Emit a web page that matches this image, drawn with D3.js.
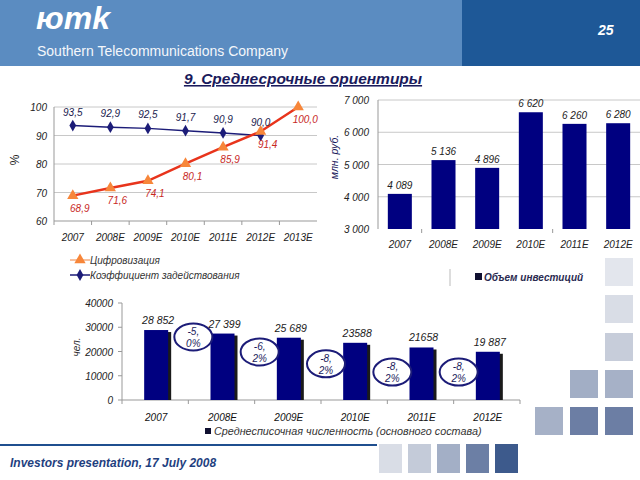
<!DOCTYPE html>
<html><head><meta charset="utf-8">
<script src="https://cdn.jsdelivr.net/npm/d3@7"></script>
<style>body{margin:0;background:#fff}svg{display:block}text{font-family:"Liberation Sans",Arial,sans-serif}</style>
</head><body><svg id="c" width="640" height="480"></svg>
<script>
// ---- data ----
const lineYears = ["2007","2008E","2009E","2010E","2011E","2012E","2013E"];
const digitization = [68.9,71.6,74.1,80.1,85.9,91.4,100.0];
const utilization = [93.5,92.9,92.5,91.7,90.9,90.0];
const lineTicks = [60,70,80,90,100];

const invYears = ["2007","2008E","2009E","2010E","2011E","2012E"];
const investment = [4089,5136,4896,6620,6260,6280];
const invTicks = [3000,4000,5000,6000,7000];

const staffYears = ["2007","2008E","2009E","2010E","2011E","2012E"];
const staff = [28852,27399,25689,23588,21658,19887];
const staffLabels = ["28 852","27 399","25 689","23588","21658","19 887"];
const staffTicks = [0,10000,20000,30000,40000];
const changeLabels = [["-5,","0%"],["-6,","2%"],["-8,","2%"],["-8,","2%"],["-8,","2%"]];
const changeLevel = [26000,19800,14900,11500,11500];

const fmt = v => d3.format(",.1f")(v).replace(".", ",");
const fmtSp = v => d3.format(",")(v).replace(/,/g, " ");

const svg = d3.select("#c");
const NAVY = "#000080";

// ---- header ----
svg.append("rect").attr("x",0).attr("y",0).attr("width",462).attr("height",66).attr("fill","#5b8cc1");
svg.append("rect").attr("x",462).attr("y",0).attr("width",178).attr("height",66).attr("fill","#1e5897");
svg.append("text").attr("x",36).attr("y",29).attr("fill","#fff").attr("font-size",32).attr("font-weight","bold").attr("font-style","italic").attr("letter-spacing",0).text("юmk");
svg.append("text").attr("x",37).attr("y",56).attr("fill","#f4f7fb").attr("font-size",14).text("Southern Telecommunications Company");
svg.append("text").attr("x",598).attr("y",35).attr("fill","#fff").attr("font-size",14).attr("font-weight","bold").attr("font-style","italic").text("25");
svg.append("text").attr("x",303).attr("y",84).attr("text-anchor","middle").attr("fill","#1a1a5c").attr("font-size",15.5).attr("font-weight","bold").attr("font-style","italic").attr("text-decoration","underline").text("9. Среднесрочные ориентиры");

// ---- line chart ----
{
  const x = d3.scaleBand().domain(lineYears).range([54,317]);
  const cx = d => x(d)+x.bandwidth()/2;
  const y = d3.scaleLinear().domain([60,100]).range([221,107]);
  const g = svg.append("g");
  g.selectAll("line.grid").data(lineTicks.slice(1)).join("line").attr("x1",54).attr("x2",317).attr("y1",d=>y(d)).attr("y2",d=>y(d)).attr("stroke","#c8c8c8");
  g.append("line").attr("x1",54).attr("x2",54).attr("y1",107).attr("y2",221).attr("stroke","#999");
  g.append("line").attr("x1",54).attr("x2",317).attr("y1",221).attr("y2",221).attr("stroke","#999");
  g.selectAll("line.xt").data(lineYears).join("line").attr("x1",d=>x(d)).attr("x2",d=>x(d)).attr("y1",221).attr("y2",225).attr("stroke","#999");
  g.selectAll("text.yt").data(lineTicks).join("text").attr("x",47).attr("y",d=>y(d)+4).attr("text-anchor","end").attr("font-size",10).attr("font-style","italic").attr("fill","#222").text(d=>d);
  g.selectAll("text.xl").data(lineYears).join("text").attr("x",d=>cx(d)).attr("y",241).attr("text-anchor","middle").attr("font-size",10).attr("font-style","italic").attr("fill","#222").text(d=>d);
  g.append("text").attr("transform","translate(19,160) rotate(-90)").attr("text-anchor","middle").attr("font-size",12).attr("fill","#222").text("%");
  const ln = d3.line().x(d=>cx(d[0])).y(d=>y(d[1]));
  const uData = utilization.map((v,i)=>[lineYears[i],v]);
  const dData = digitization.map((v,i)=>[lineYears[i],v]);
  g.append("path").datum(uData).attr("d",ln).attr("fill","none").attr("stroke","#1c1c78").attr("stroke-width",1.5);
  g.append("path").datum(dData).attr("d",ln).attr("fill","none").attr("stroke","#e8341c").attr("stroke-width",2.5);
  const diamond = d3.symbol().type(d3.symbolDiamond).size(40);
  const tri = d3.symbol().type(d3.symbolTriangle).size(55);
  g.selectAll("path.u").data(uData).join("path").attr("transform",d=>`translate(${cx(d[0])},${y(d[1])})`).attr("d",diamond).attr("fill","#1c1c78");
  g.selectAll("path.dg").data(dData).join("path").attr("transform",d=>`translate(${cx(d[0])},${y(d[1])})`).attr("d",tri).attr("fill","#f7863a");
  g.selectAll("text.ul").data(uData).join("text").attr("x",d=>cx(d[0])).attr("y",d=>y(d[1])-10).attr("text-anchor","middle").attr("font-size",10).attr("font-style","italic").attr("fill","#1a1a4e").text(d=>fmt(d[1]));
  g.selectAll("text.dl").data(dData).join("text").attr("x",d=>cx(d[0])+7).attr("y",d=>y(d[1])+16).attr("text-anchor","middle").attr("font-size",10).attr("font-style","italic").attr("fill","#c8281e").text(d=>fmt(d[1]));
  // legend
  g.append("line").attr("x1",70).attr("x2",90).attr("y1",260).attr("y2",260).attr("stroke","#f0823e").attr("stroke-width",1);
  g.append("path").attr("transform","translate(80,260)").attr("d",tri).attr("fill","#f7863a");
  g.append("text").attr("x",90).attr("y",264).attr("font-size",10).attr("font-style","italic").attr("fill","#333").text("Цифровизация");
  g.append("line").attr("x1",70).attr("x2",90).attr("y1",275).attr("y2",275).attr("stroke","#1c1c78").attr("stroke-width",1.5);
  g.append("path").attr("transform","translate(80,275)").attr("d",diamond).attr("fill","#1c1c78");
  g.append("text").attr("x",90).attr("y",279).attr("font-size",10).attr("font-style","italic").attr("fill","#333").text("Коэффициент задействования");
}

// ---- investment chart ----
{
  const x = d3.scaleBand().domain(invYears).range([378,640]).paddingInner(0.45).paddingOuter(0.225);
  const y = d3.scaleLinear().domain([3000,7000]).range([229,100]);
  const g = svg.append("g");
  g.selectAll("line.grid").data(invTicks.slice(1)).join("line").attr("x1",378).attr("x2",640).attr("y1",d=>y(d)).attr("y2",d=>y(d)).attr("stroke","#c8c8c8");
  g.append("line").attr("x1",378).attr("x2",378).attr("y1",100).attr("y2",229).attr("stroke","#999");
  const xb = d3.scaleBand().domain(invYears).range([378,640]);
  g.selectAll("line.xt").data([invYears[1],invYears[4]]).join("line").attr("x1",d=>xb(d)).attr("x2",d=>xb(d)).attr("y1",229).attr("y2",233).attr("stroke","#999");
  g.selectAll("rect.b").data(investment).join("rect").attr("x",(d,i)=>x(invYears[i])).attr("width",x.bandwidth()).attr("y",d=>y(d)).attr("height",d=>229-y(d)).attr("fill",NAVY);
  g.selectAll("text.v").data(investment).join("text").attr("x",(d,i)=>x(invYears[i])+x.bandwidth()/2).attr("y",d=>y(d)-5).attr("text-anchor","middle").attr("font-size",10).attr("font-style","italic").attr("fill","#222").text(d=>fmtSp(d));
  g.selectAll("text.yt").data(invTicks).join("text").attr("x",369).attr("y",d=>y(d)+4).attr("text-anchor","end").attr("font-size",10).attr("font-style","italic").attr("fill","#222").text(d=>fmtSp(d));
  g.selectAll("text.xl").data(invYears).join("text").attr("x",d=>x(d)+x.bandwidth()/2).attr("y",248).attr("text-anchor","middle").attr("font-size",10).attr("font-style","italic").attr("fill","#222").text(d=>d);
  g.append("text").attr("transform","translate(338,157) rotate(-90)").attr("text-anchor","middle").attr("font-size",10.5).attr("font-style","italic").attr("fill","#1a1a5c").text("млн. руб.");
  g.append("line").attr("x1",450).attr("x2",450).attr("y1",269).attr("y2",286).attr("stroke","#bbb");
  g.append("rect").attr("x",475).attr("y",273).attr("width",7).attr("height",7).attr("fill","#101030");
  g.append("text").attr("x",484).attr("y",281).attr("font-size",10).attr("font-weight","bold").attr("font-style","italic").attr("fill","#2a2a50").text("Объем инвестиций");
}

// ---- staff chart ----
{
  const xb = d3.scaleBand().domain(staffYears).range([122,520]);
  const bw = 24;
  const cx = d => xb(d)+xb.bandwidth()/2+1;
  const y = d3.scaleLinear().domain([0,40000]).range([400,303]);
  const g = svg.append("g");
  g.append("line").attr("x1",122).attr("x2",122).attr("y1",303).attr("y2",400).attr("stroke","#999");
  g.append("line").attr("x1",122).attr("x2",520).attr("y1",400).attr("y2",400).attr("stroke","#999");
  g.selectAll("line.yt").data(staffTicks).join("line").attr("x1",118).attr("x2",122).attr("y1",d=>y(d)).attr("y2",d=>y(d)).attr("stroke","#999");
  g.selectAll("line.xt").data(staffYears.concat(["end"])).join("line").attr("x1",(d,i)=>122+i*xb.bandwidth()).attr("x2",(d,i)=>122+i*xb.bandwidth()).attr("y1",400).attr("y2",404).attr("stroke","#999");
  g.selectAll("text.yt").data(staffTicks).join("text").attr("x",113).attr("y",d=>y(d)+4).attr("text-anchor","end").attr("font-size",10).attr("font-style","italic").attr("fill","#222").text(d=>d);
  g.append("text").attr("transform","translate(80,347) rotate(-90)").attr("text-anchor","middle").attr("font-size",10).attr("font-style","italic").attr("fill","#333").text("чел.");
  g.selectAll("rect.s").data(staff).join("rect").attr("x",(d,i)=>cx(staffYears[i])-bw/2+3).attr("width",bw).attr("y",d=>y(d)+2).attr("height",d=>400-y(d)-2).attr("fill","#1a1a1a");
  g.selectAll("rect.b").data(staff).join("rect").attr("x",(d,i)=>cx(staffYears[i])-bw/2).attr("width",bw).attr("y",d=>y(d)).attr("height",d=>400-y(d)).attr("fill",NAVY);
  g.selectAll("text.v").data(staff).join("text").attr("x",(d,i)=>cx(staffYears[i])+2).attr("y",d=>y(d)-6).attr("text-anchor","middle").attr("font-size",10.5).attr("font-style","italic").attr("fill","#222").text((d,i)=>staffLabels[i]);
  g.selectAll("text.xl").data(staffYears).join("text").attr("x",d=>cx(d)).attr("y",421).attr("text-anchor","middle").attr("font-size",10).attr("font-style","italic").attr("fill","#111").text(d=>d);
  const eg = g.selectAll("g.e").data(changeLabels).join("g").attr("transform",(d,i)=>`translate(${xb(staffYears[i+1])+5},${y(changeLevel[i])})`);
  eg.append("ellipse").attr("rx",19).attr("ry",13.5).attr("fill","#fff").attr("stroke","#1c1c78").attr("stroke-width",2);
  eg.append("text").attr("y",-2).attr("text-anchor","middle").attr("font-size",10).attr("font-style","italic").attr("fill","#1c1c5c").text(d=>d[0]);
  eg.append("text").attr("y",10).attr("text-anchor","middle").attr("font-size",10).attr("font-style","italic").attr("fill","#1c1c5c").text(d=>d[1]);
  g.append("rect").attr("x",205).attr("y",428).attr("width",6).attr("height",6).attr("fill","#101030");
  g.append("text").attr("x",214).attr("y",435).attr("font-size",10.8).attr("font-style","italic").attr("fill","#333").text("Среднесписочная численность (основного состава)");
}

// ---- decoration ----
const deco = [
  [605,258,"#e3e6ed"],[605,295,"#d9dde6"],[605,333,"#c7cdda"],
  [570,370,"#a2aec5"],[605,370,"#a6b1c7"],
  [535,407,"#a6b1c7"],[570,407,"#6c7ea4"],[605,407,"#6c7ea4"]
];
svg.selectAll("rect.deco").data(deco).join("rect").attr("x",d=>d[0]).attr("y",d=>d[1]).attr("width",28).attr("height",28).attr("fill",d=>d[2]);
svg.append("line").attr("x1",0).attr("x2",377).attr("y1",445).attr("y2",445).attr("stroke","#1f4f8f").attr("stroke-width",2);
const foot = [[379,"#d9dde6"],[408,"#c4cbd9"],[437,"#a3afc6"],[466,"#6c7fa5"],[495,"#3d5a8c"]];
svg.selectAll("rect.foot").data(foot).join("rect").attr("x",d=>d[0]).attr("y",444).attr("width",23).attr("height",29).attr("fill",d=>d[1]);
svg.append("text").attr("x",10).attr("y",467).attr("font-size",12).attr("font-weight","bold").attr("font-style","italic").attr("fill","#1f3f7f").text("Investors presentation, 17 July 2008");
</script></body></html>
